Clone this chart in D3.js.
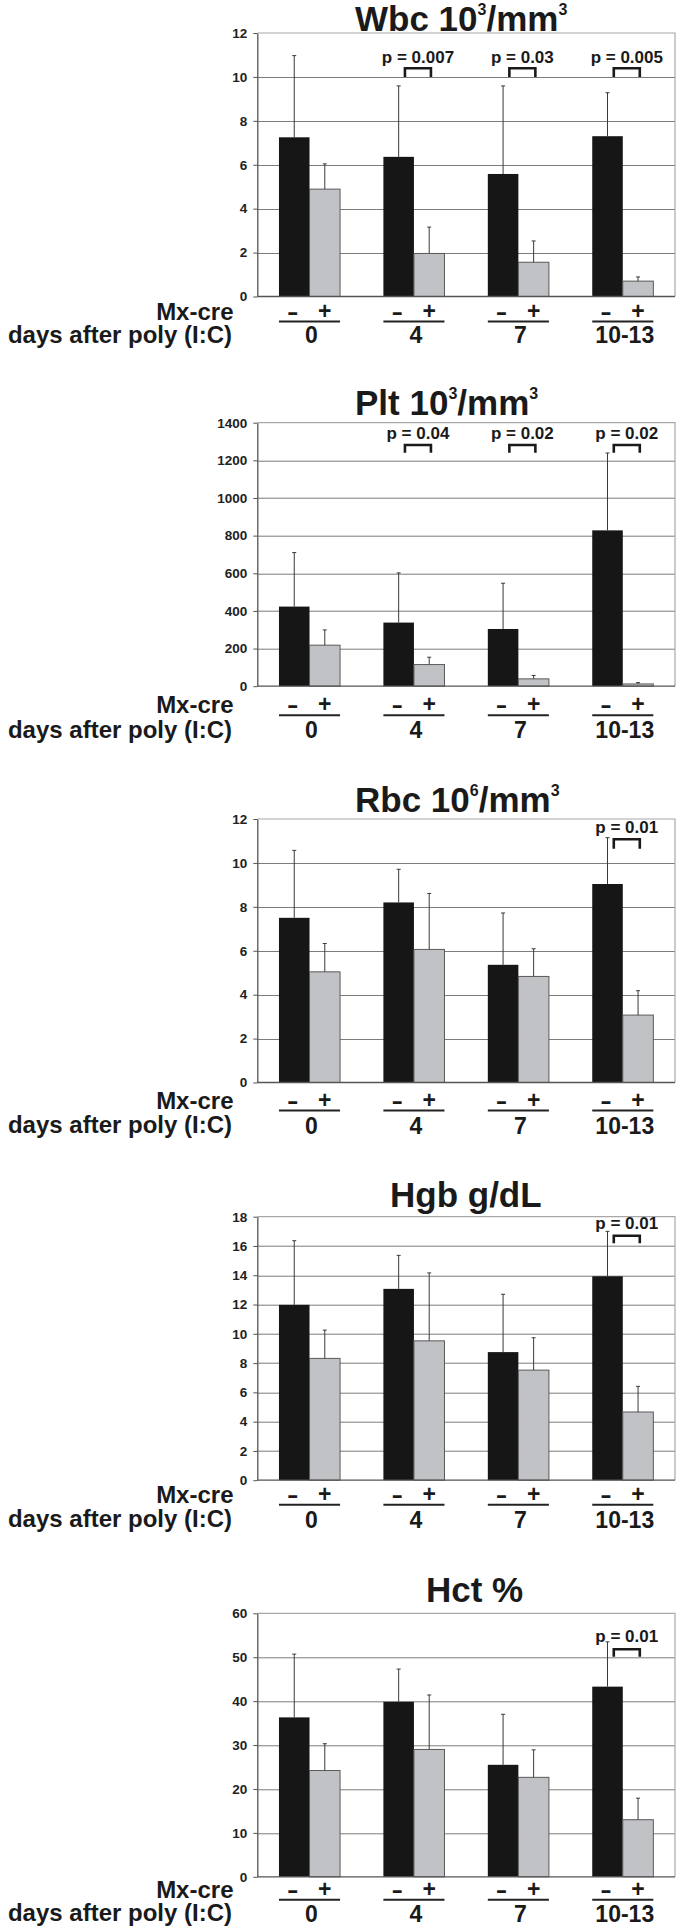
<!DOCTYPE html>
<html>
<head>
<meta charset="utf-8">
<script src="https://cdn.jsdelivr.net/npm/d3@7"></script>
<style>
  body { margin: 0; background: #fff; }
  svg { display: block; font-family: "Liberation Sans", Arial, sans-serif; font-weight: bold; }
</style>
</head>
<body>
<div id="chart"></div>
<script>
// categories
var days = ["0", "4", "7", "10-13"];
var mxCre = ["-", "+"];

// panel titles, pieces alternate normal / superscript
var titles = [
    ["Wbc 10", "3", "/mm", "3"],
    ["Plt 10", "3", "/mm", "3"],
    ["Rbc 10", "6", "/mm", "3"],
    ["Hgb g/dL"],
    ["Hct %"]
];

// y tick labels
var wbcTicks = [0, 2, 4, 6, 8, 10, 12];
var pltTicks = [0, 200, 400, 600, 800, 1000, 1200, 1400];
var rbcTicks = [0, 2, 4, 6, 8, 10, 12];
var hgbTicks = [0, 2, 4, 6, 8, 10, 12, 14, 16, 18];
var hctTicks = [0, 10, 20, 30, 40, 50, 60];

// means and SD, Mx-cre - (black) and Mx-cre + (grey)
var wbcNeg = [7.25, 6.36, 5.58, 7.30],  wbcNegSd = [3.72, 3.23, 4.01, 1.98];
var wbcPos = [4.89, 1.96, 1.56, 0.70],  wbcPosSd = [1.15, 1.20, 0.97, 0.19];
var pltNeg = [423, 338, 304, 828],      pltNegSd = [287, 264, 243, 411];
var pltPos = [218, 115, 39, 12],        pltPosSd = [81, 39, 18, 7];
var rbcNeg = [7.50, 8.20, 5.36, 9.04],  rbcNegSd = [3.07, 1.51, 2.36, 2.11];
var rbcPos = [5.04, 6.06, 4.83, 3.07],  rbcPosSd = [1.29, 2.55, 1.26, 1.11];
var hgbNeg = [11.98, 13.07, 8.75, 13.93], hgbNegSd = [4.38, 2.29, 3.95, 3.07];
var hgbPos = [8.32, 9.52, 7.52, 4.66],  hgbPosSd = [1.93, 4.64, 2.21, 1.75];
var hctNeg = [36.3, 39.85, 25.5, 43.3], hctNegSd = [14.4, 7.45, 11.5, 10.2];
var hctPos = [24.2, 29.0, 22.65, 13.0], hctPosSd = [6.1, 12.4, 6.25, 4.9];

// p values per day
var wbcP = [null, "p = 0.007", "p = 0.03", "p = 0.005"];
var pltP = [null, "p = 0.04", "p = 0.02", "p = 0.02"];
var rbcP = [null, null, null, "p = 0.01"];
var hgbP = [null, null, null, "p = 0.01"];
var hctP = [null, null, null, "p = 0.01"];

var panels = [
    {ticks: wbcTicks, neg: wbcNeg, negSd: wbcNegSd, pos: wbcPos, posSd: wbcPosSd, p: wbcP},
    {ticks: pltTicks, neg: pltNeg, negSd: pltNegSd, pos: pltPos, posSd: pltPosSd, p: pltP},
    {ticks: rbcTicks, neg: rbcNeg, negSd: rbcNegSd, pos: rbcPos, posSd: rbcPosSd, p: rbcP},
    {ticks: hgbTicks, neg: hgbNeg, negSd: hgbNegSd, pos: hgbPos, posSd: hgbPosSd, p: hgbP},
    {ticks: hctTicks, neg: hctNeg, negSd: hctNegSd, pos: hctPos, posSd: hctPosSd, p: hctP}
];

// where each panel sits on the page
var layout = [
    {top: 33,     titleX: 355, titleDy: -2.5,  pText: 29.5, bTop: 35.3, bBot: 44,   mx: 22,   rule: 25,   num: 46.5},
    {top: 422.7,  titleX: 355, titleDy: -7.7,  pText: 16.6, bTop: 22.3, bBot: 30,   mx: 26,   rule: 29,   num: 52},
    {top: 819,    titleX: 355, titleDy: -7.3,  pText: 14.3, bTop: 20.3, bBot: 29.7, mx: 25,   rule: 28,   num: 51},
    {top: 1216.7, titleX: 390, titleDy: -10,   pText: 12.6, bTop: 19,   bBot: 26.6, mx: 21.5, rule: 24.5, num: 47.5},
    {top: 1613.3, titleX: 426, titleDy: -11.6, pText: 28.4, bTop: 36,   bBot: 43.4, mx: 20,   rule: 23,   num: 45}
];

var width = 685, height = 1931,
    plotLeft = 257.3, plotRight = 675, plotH = 263.5;

var svg = d3.select("#chart").append("svg")
    .attr("width", width)
    .attr("height", height);

svg.append("rect").attr("width", width).attr("height", height).attr("fill", "#fff");

var x0 = d3.scaleBand().domain(days).range([plotLeft, plotRight]).paddingInner(0.415).paddingOuter(0.2075);
var x1 = d3.scaleBand().domain(mxCre).range([0, x0.bandwidth()]);
var colors = {"-": "#161616", "+": "#c1c2c5"};

panels.forEach(function (p, i) {
    var L = layout[i];
    var g = svg.append("g").attr("transform", `translate(0,${L.top})`);
    var y = d3.scaleLinear().domain([0, d3.max(p.ticks)]).range([plotH, 0]);

    // title
    var t = g.append("text")
        .attr("x", L.titleX)
        .attr("y", L.titleDy)
        .attr("font-size", 35)
        .attr("fill", "#1a1a1a");
    titles[i].forEach(function (s, k) {
        t.append("tspan")
            .attr("font-size", k % 2 ? 16 : 35)
            .attr("dy", k == 0 ? 0 : (k % 2 ? -16 : 16))
            .text(s);
    });

    // grid lines
    g.selectAll(".grid")
        .data(p.ticks.slice(1, -1))
        .enter().append("line")
        .attr("x1", plotLeft).attr("x2", plotRight)
        .attr("y1", d => Math.round(y(d)) + 0.5).attr("y2", d => Math.round(y(d)) + 0.5)
        .attr("stroke", "#7c7c7c");

    // frame top and right
    g.append("path")
        .attr("d", `M${plotLeft},${y(d3.max(p.ticks))}H${plotRight}V${plotH}`)
        .attr("fill", "none")
        .attr("stroke", "#a8a8a8")
        .attr("stroke-width", 1.2);

    // bars
    var day = g.selectAll(".day")
        .data(days)
        .enter().append("g")
        .attr("transform", d => `translate(${x0(d)},0)`);

    var rows = day.selectAll(".bar")
        .data((d, j) => [
            {k: "-", v: p.neg[j], sd: p.negSd[j]},
            {k: "+", v: p.pos[j], sd: p.posSd[j]}
        ])
        .enter();

    rows.append("rect")
        .attr("x", d => x1(d.k))
        .attr("y", d => y(d.v))
        .attr("width", x1.bandwidth())
        .attr("height", d => plotH - y(d.v))
        .attr("fill", d => colors[d.k])
        .attr("stroke", d => d.k == "+" ? "#5a5a5a" : "none")
        .attr("stroke-width", 1);

    // error bars
    rows.append("line")
        .attr("x1", d => x1(d.k) + x1.bandwidth() / 2)
        .attr("x2", d => x1(d.k) + x1.bandwidth() / 2)
        .attr("y1", d => y(d.v))
        .attr("y2", d => y(d.v + d.sd))
        .attr("stroke", "#3a3a3a")
        .attr("stroke-width", 1);
    rows.append("line")
        .attr("x1", d => x1(d.k) + x1.bandwidth() / 2 - 2)
        .attr("x2", d => x1(d.k) + x1.bandwidth() / 2 + 2)
        .attr("y1", d => y(d.v + d.sd))
        .attr("y2", d => y(d.v + d.sd))
        .attr("stroke", "#3a3a3a")
        .attr("stroke-width", 1);

    // bottom axis line
    g.append("line")
        .attr("x1", plotLeft).attr("x2", plotRight)
        .attr("y1", plotH).attr("y2", plotH)
        .attr("stroke", "#555")
        .attr("stroke-width", 1.3);

    // y axis
    var yAxis = d3.axisLeft(y).tickValues(p.ticks).tickFormat(d3.format("d"))
        .tickSize(4).tickPadding(6).tickSizeOuter(0);
    var ax = g.append("g")
        .attr("transform", `translate(${plotLeft},0)`)
        .call(yAxis);
    ax.attr("font-family", null).attr("font-size", 13.5);
    ax.select(".domain").attr("stroke", "#555").attr("stroke-width", 1.3);
    ax.selectAll(".tick line").attr("stroke", "#555");
    ax.selectAll(".tick text").attr("fill", "#222");

    // significance brackets
    var sig = days.map((d, j) => ({d: d, p: p.p[j]})).filter(o => o.p);
    var cx = d => x0(d) + x0.bandwidth() / 2 + 4;
    g.selectAll(".bracket")
        .data(sig)
        .enter().append("path")
        .attr("d", o => `M${cx(o.d) - 13},${L.bBot}V${L.bTop}H${cx(o.d) + 13}V${L.bBot}`)
        .attr("fill", "none")
        .attr("stroke", "#1a1a1a")
        .attr("stroke-width", 2.6);
    g.selectAll(".ptext")
        .data(sig)
        .enter().append("text")
        .attr("x", o => cx(o.d))
        .attr("y", L.pText)
        .attr("text-anchor", "middle")
        .attr("font-size", 17)
        .attr("fill", "#1a1a1a")
        .text(o => o.p);

    // labels under the plot
    g.append("text")
        .attr("x", 233.5)
        .attr("y", plotH + L.mx + 1)
        .attr("text-anchor", "end")
        .attr("font-size", 24)
        .attr("fill", "#1a1a1a")
        .text("Mx-cre");
    g.append("text")
        .attr("x", 232)
        .attr("y", plotH + L.num - 0.5)
        .attr("text-anchor", "end")
        .attr("font-size", 24)
        .attr("fill", "#1a1a1a")
        .text("days after poly (I:C)");

    day.selectAll(".sign")
        .data(mxCre)
        .enter().append("text")
        .attr("text-anchor", "middle")
        .attr("font-size", 23)
        .attr("fill", "#1a1a1a")
        .attr("transform", d => d == "-"
            ? `translate(${x1(d) + x1.bandwidth() / 2 - 1.5},${plotH + L.mx}) scale(1.5,1)`
            : `translate(${x1(d) + x1.bandwidth() / 2},${plotH + L.mx})`)
        .text(d => d);

    day.append("line")
        .attr("x1", 0).attr("x2", x0.bandwidth())
        .attr("y1", plotH + L.rule).attr("y2", plotH + L.rule)
        .attr("stroke", "#222")
        .attr("stroke-width", 2);

    day.append("text")
        .attr("x", x0.bandwidth() / 2 + 2)
        .attr("y", plotH + L.num)
        .attr("text-anchor", "middle")
        .attr("font-size", 23)
        .attr("fill", "#1a1a1a")
        .text(d => d);
});
</script>
</body>
</html>
